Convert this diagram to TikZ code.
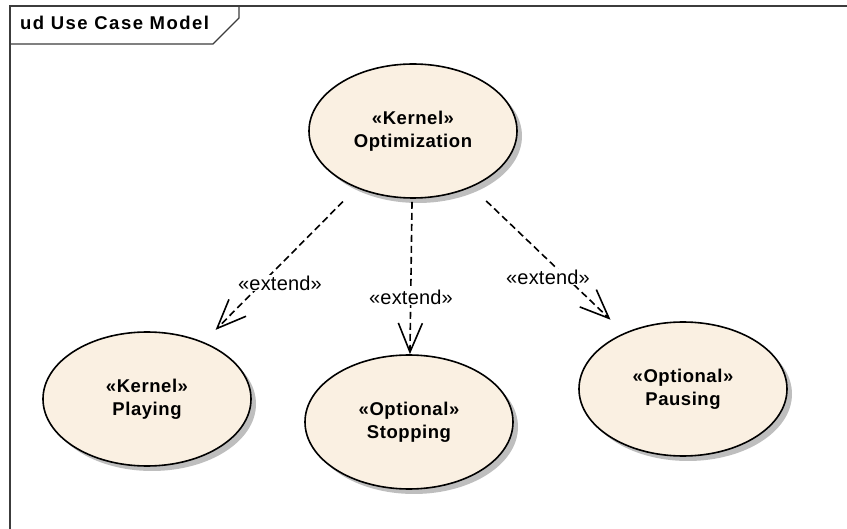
\documentclass[tikz,border=0pt]{standalone}
\usepackage{fontspec}
\setmainfont{Liberation Sans}
\newfontfamily\ucfont[LetterSpace=3]{Liberation Sans}
\newfontfamily\titlefont[LetterSpace=8]{Liberation Sans}
\newfontfamily\lblfont[LetterSpace=1]{Liberation Sans}
\usetikzlibrary{shapes.geometric, shadows, arrows.meta}

\definecolor{ucfill}{RGB}{250,240,226}
\definecolor{ucshadow}{RGB}{190,190,190}
\definecolor{framecol}{RGB}{60,60,60}

\begin{document}
\begin{tikzpicture}[x=1pt, y=-1pt,
  usecase/.style={ellipse, draw=black, line width=1.6pt, fill=ucfill,
    minimum width=208pt, minimum height=134pt, inner sep=0pt, align=center,
    font={\ucfont\bfseries\fontsize{18.5}{23}\selectfont},
    drop shadow={shadow xshift=5pt, shadow yshift=-5pt, fill=ucshadow, opacity=1}},
  extendarrow/.style={dash pattern=on 7pt off 4pt, line width=1.6pt,
    -{Straight Barb[length=29pt, width=24pt]}},
  lbl/.style={fill=white, inner sep=1pt, font={\lblfont\fontsize{20}{22}\selectfont}}]

  \useasboundingbox (0,0) rectangle (847,529);

  % diagram frame and its name tab
  \draw[framecol, line width=1.4pt] (10,529) -- (10,6) -- (847,6);
  \draw[framecol, line width=1.1pt] (10,44) -- (213,44) -- (239,18) -- (239,6);
  \node[anchor=base west, inner sep=0pt,
        font={\titlefont\bfseries\fontsize{18.5}{20}\selectfont}] (title) at (20,30) {ud Use Case Model};

  % use cases
  \node[usecase] (opt)  at (413,131) {«Kernel»\\Optimization};
  \node[usecase] (play) at (147,399) {«Kernel»\\Playing};
  \node[usecase] (stop) at (409,422) {«Optional»\\Stopping};
  \node[usecase] (paus) at (683,389) {«Optional»\\Pausing};

  % extend relations
  \draw[extendarrow, shorten <=19pt, shorten >=17pt] (opt) -- (play);
  \draw[extendarrow, shorten <=3pt] (opt) -- (stop);
  \draw[extendarrow, shorten <=20pt, shorten >=19pt] (opt) -- (paus);

  \node[lbl] (lplay) at (280,283) {«extend»};
  \node[lbl] (lstop) at (411,297) {«extend»};
  \node[lbl] (lpaus) at (548,277) {«extend»};
\end{tikzpicture}
\end{document}
